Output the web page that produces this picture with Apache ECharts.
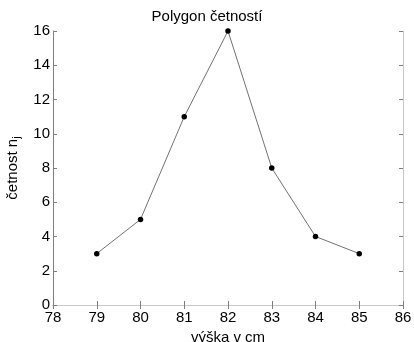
<!DOCTYPE html>
<html>
<head>
<meta charset="utf-8">
<script src="https://cdn.jsdelivr.net/npm/echarts@6/dist/echarts.min.js"></script>
<style>html,body{margin:0;padding:0;background:#fff}#c{width:414px;height:342px}</style>
</head>
<body>
<div id="c"></div>
<script>
const heights = [79, 80, 81, 82, 83, 84, 85];
const counts = [3, 5, 11, 16, 8, 4, 3];
const xTicks = [78, 79, 80, 81, 82, 83, 84, 85, 86];
const yTicks = [0, 2, 4, 6, 8, 10, 12, 14, 16];

const font = 'Liberation Sans, Arial, sans-serif';
const chart = echarts.init(document.getElementById('c'), null, {renderer: 'canvas'});
const data = heights.map((h, i) => [h, counts[i]]);
const axisDark = '#7f7f7f';
const axisLight = '#c8c8c8';
chart.setOption({
  animation: false,
  backgroundColor: '#fff',
  title: {
    text: 'Polygon četností', left: 'center', top: 4,
    textStyle: {fontFamily: font, fontSize: 15, fontWeight: 'normal', color: '#000'}
  },
  grid: [{left: 53, right: 11, top: 31, bottom: 37, containLabel: false, outerBoundsMode: 'none'}],
  xAxis: [{
    type: 'value', min: xTicks[0], max: xTicks[xTicks.length - 1], interval: 1,
    name: 'výška v cm', nameLocation: 'middle', nameGap: 20,
    nameTextStyle: {fontFamily: font, fontSize: 15, color: '#000'},
    axisLine: {lineStyle: {color: axisDark, width: 1}},
    axisTick: {inside: true, length: 4, lineStyle: {color: axisDark}},
    axisLabel: {fontFamily: font, fontSize: 15, color: '#000', margin: 5},
    splitLine: {show: false}
  }, {
    type: 'value', min: xTicks[0], max: xTicks[xTicks.length - 1], interval: 1, position: 'top',
    axisLine: {lineStyle: {color: axisLight, width: 1}},
    axisTick: {inside: true, length: 4, lineStyle: {color: axisDark}},
    axisLabel: {show: false}, splitLine: {show: false}
  }],
  yAxis: [{
    type: 'value', min: yTicks[0], max: yTicks[yTicks.length - 1], interval: 2,
    name: '{a|četnost n}{s|j}', nameLocation: 'middle', nameGap: 23, nameRotate: 90,
    nameTextStyle: {
      fontFamily: font, fontSize: 15, color: '#000',
      rich: {
        a: {fontFamily: font, fontSize: 15, color: '#000'},
        s: {fontFamily: font, fontSize: 11, color: '#000', padding: [9, 0, 0, 0]}
      }
    },
    axisLine: {lineStyle: {color: axisDark, width: 1}},
    axisTick: {inside: true, length: 4, lineStyle: {color: axisDark}},
    axisLabel: {fontFamily: font, fontSize: 15, color: '#000', margin: 3},
    splitLine: {show: false}
  }, {
    type: 'value', min: yTicks[0], max: yTicks[yTicks.length - 1], interval: 2, position: 'right',
    axisLine: {lineStyle: {color: axisLight, width: 1}},
    axisTick: {inside: true, length: 4, lineStyle: {color: axisDark}},
    axisLabel: {show: false}, splitLine: {show: false}
  }],
  series: [{
    type: 'line', data: data, xAxisIndex: 0, yAxisIndex: 0,
    symbol: 'circle', symbolSize: 5.5,
    itemStyle: {color: '#000'},
    lineStyle: {color: '#333', width: 0.7}
  }]
});
</script>
</body>
</html>
